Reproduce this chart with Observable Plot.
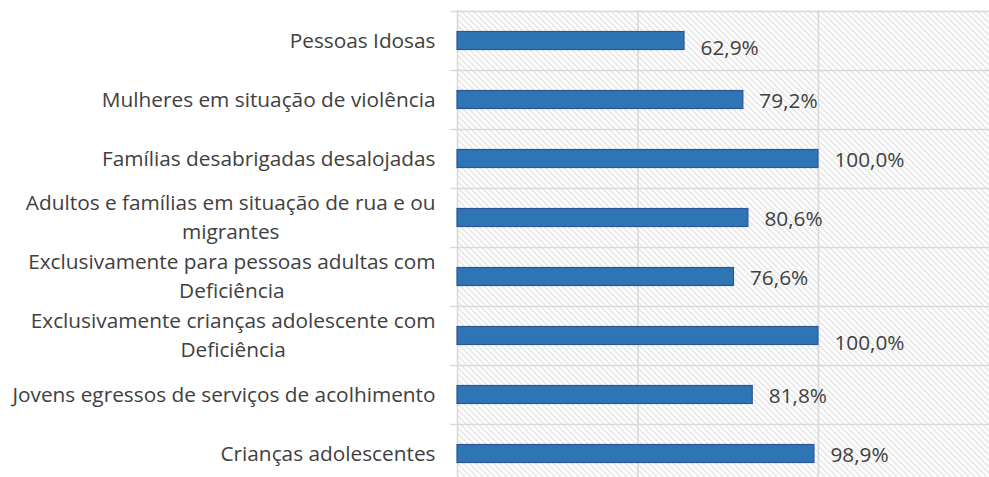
<!DOCTYPE html>
<html><head><meta charset="utf-8">
<script src="https://cdn.jsdelivr.net/npm/d3@7"></script>
<script src="https://cdn.jsdelivr.net/npm/@observablehq/plot@0.6"></script>
<style>
body{margin:0;background:#fff;overflow:hidden}
#chart svg{display:block}
</style>
</head><body>
<svg width="0" height="0" style="position:absolute">
  <defs>
    <pattern id="hatch" patternUnits="userSpaceOnUse" width="6" height="6">
      <path d="M0,0 L6,6 M-1,5 L1,7 M5,-1 L7,1" stroke="#dadada" stroke-width="1.2"/>
    </pattern>
  </defs>
</svg>
<div id="chart"></div>
<script>
const categories = [
  "Pessoas Idosas",
  "Mulheres em situação de violência",
  "Famílias desabrigadas desalojadas",
  "Adultos e famílias em situação de rua e ou migrantes",
  "Exclusivamente para pessoas adultas com Deficiência",
  "Exclusivamente crianças adolescente com Deficiência",
  "Jovens egressos de serviços de acolhimento",
  "Crianças adolescentes"
];
const labelLines = [
  ["Pessoas Idosas"],
  ["Mulheres em situação de violência"],
  ["Famílias desabrigadas desalojadas"],
  ["Adultos e famílias em situação de rua e ou", "migrantes"],
  ["Exclusivamente para pessoas adultas com", "Deficiência"],
  ["Exclusivamente crianças adolescente com", "Deficiência"],
  ["Jovens egressos de serviços de acolhimento"],
  ["Crianças adolescentes"]
];
const values = [62.9, 79.2, 100.0, 80.6, 76.6, 100.0, 81.8, 98.9];
const valueLabels = ["62,9%", "79,2%", "100,0%", "80,6%", "76,6%", "100,0%", "81,8%", "98,9%"];
const gridTicks = [0, 50, 100, 150];
const shiftedLabels = ["Pessoas Idosas", "Exclusivamente crianças adolescente com Deficiência"];

const data = categories.map((c, i) => ({cat: c, value: values[i], label: valueLabels[i], lines: labelLines[i]}));

const W = 989, H = 483, mTop = 10, mLeft = 457;
const bw = (H - mTop) / categories.length;
const FONT = "Open Sans";
const FS = 20.8;
const TXT = "#404040";
const GRID = "#d9d9d9";
const labelGap = 22;

const ctx = document.createElement("canvas").getContext("2d");
ctx.font = `${FS}px "${FONT}"`;

const singles = data.filter(d => d.lines.length === 1);
const doubles = data.filter(d => d.lines.length === 2);
const labelMarks = [
  Plot.text(singles, {
    x: () => 0, y: "cat", text: d => d.lines[0],
    textAnchor: "end", dx: -labelGap,
    fill: TXT, fontSize: FS, fontFamily: FONT
  }),
  Plot.text(doubles, {
    x: () => 0, y: "cat", text: d => d.lines[0],
    textAnchor: "end", dx: -labelGap, dy: -14.5,
    fill: TXT, fontSize: FS, fontFamily: FONT
  })
];
for (const d of doubles) {
  const w = ctx.measureText(d.lines[0]).width;
  labelMarks.push(Plot.text([d], {
    x: () => 0, y: "cat", text: d => d.lines[1],
    textAnchor: "middle", dx: -labelGap - w / 2, dy: 14.5,
    fill: TXT, fontSize: FS, fontFamily: FONT
  }));
}

const chart = Plot.plot({
  width: W, height: H,
  marginTop: mTop, marginBottom: 0, marginLeft: mLeft, marginRight: 0,
  style: {fontFamily: FONT, background: "#fff", overflow: "visible"},
  x: {domain: [0, 147.4], axis: null},
  y: {domain: categories, axis: null, padding: 0},
  marks: [
    Plot.frame({fill: "url(#hatch)", stroke: null}),
    Plot.ruleX(gridTicks, {stroke: GRID, strokeWidth: 1.6}),
    Plot.ruleY(categories, {y: d => d, dy: -bw / 2, stroke: GRID, strokeWidth: 1.6, insetLeft: -7}),
    Plot.ruleY([categories[categories.length - 1]], {y: d => d, dy: bw / 2, stroke: GRID, strokeWidth: 1.6, insetLeft: -7}),
    Plot.barX(data, {
      y: "cat", x: "value",
      fill: "#2E75B6", stroke: "#2F5597", strokeWidth: 1.2,
      insetTop: 20.5, insetBottom: 20.5
    }),
    Plot.text(data.filter(d => !shiftedLabels.includes(d.cat)), {
      x: "value", y: "cat", text: "label",
      textAnchor: "start", dx: 16, dy: 1.5,
      fill: TXT, fontSize: FS, fontFamily: FONT
    }),
    Plot.text(data.filter(d => shiftedLabels.includes(d.cat)), {
      x: "value", y: "cat", text: "label",
      textAnchor: "start", dx: 16, dy: 7,
      fill: TXT, fontSize: FS, fontFamily: FONT
    }),
    ...labelMarks
  ]
});
document.getElementById("chart").appendChild(chart);
</script>
</body></html>
